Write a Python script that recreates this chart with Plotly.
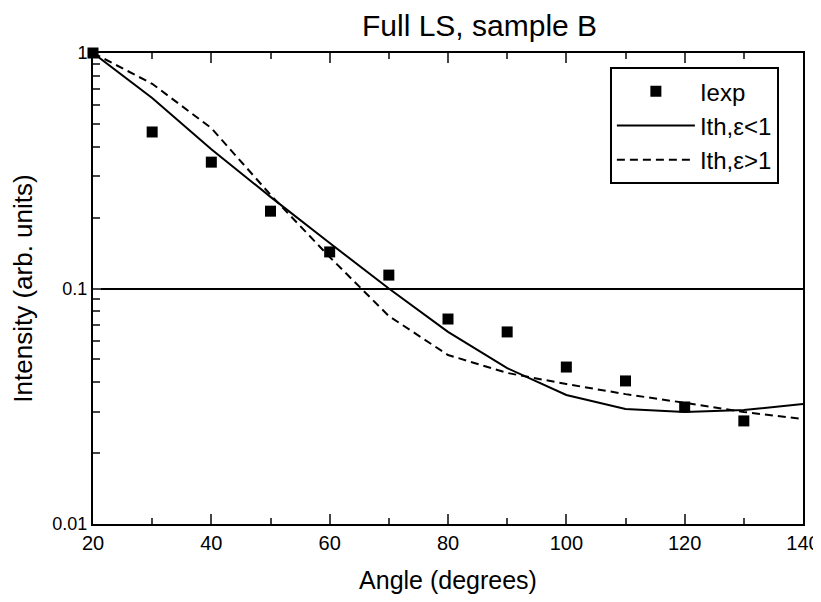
import plotly.graph_objects as go

angles_exp = [20, 30, 40, 50, 60, 70, 80, 90, 100, 110, 120, 130]
i_exp = [1.0, 0.462, 0.344, 0.213, 0.143, 0.114, 0.0742, 0.0654, 0.0464, 0.0405, 0.0314, 0.0274]

angles_th = [20, 30, 40, 50, 60, 70, 80, 90, 100, 110, 120, 130, 140]
i_th_lt1 = [1.0, 0.644, 0.39, 0.245, 0.156, 0.1, 0.0654, 0.0459, 0.0353, 0.0308, 0.0299, 0.0305, 0.0323]
i_th_gt1 = [1.0, 0.74, 0.48, 0.25, 0.136, 0.0764, 0.0522, 0.0438, 0.0393, 0.0356, 0.0327, 0.0299, 0.0279]

x_ticks = [20, 40, 60, 80, 100, 120, 140]
y_tickvals = [0.01, 0.1, 1]
y_ticktext = ["0.01", "0.1", "1"]
y_minor = [m * 10 ** e for e in (-2, -1) for m in range(2, 10)]

font = "Liberation Sans, Arial, sans-serif"

fig = go.Figure()
fig.add_trace(go.Scatter(x=angles_exp, y=i_exp, mode="markers", name="Iexp",
                         marker=dict(symbol="square", size=11, color="black"),
                         cliponaxis=False))
fig.add_trace(go.Scatter(x=angles_th, y=i_th_lt1, mode="lines", name="Ith,ε<1",
                         line=dict(color="black", width=2)))
fig.add_trace(go.Scatter(x=angles_th, y=i_th_gt1, mode="lines", name="Ith,ε>1",
                         line=dict(color="black", width=2, dash="8px,5px")))

fig.update_layout(
    width=813, height=594,
    margin=dict(l=85, r=18, t=45, b=78),
    paper_bgcolor="white", plot_bgcolor="white",
    font=dict(family=font, color="black", size=18),
    annotations=[dict(text="Full LS, sample B", xref="paper", yref="paper",
                      x=0.544, y=1.0, yshift=28, xanchor="center", yanchor="middle",
                      showarrow=False, font=dict(size=30, family=font))],
    legend=dict(x=0.728, y=0.97, xanchor="left", yanchor="top",
                bordercolor="black", borderwidth=2, bgcolor="white",
                font=dict(size=24, family=font), itemwidth=78,
                tracegroupgap=4),
    showlegend=True,
)
fig.update_xaxes(range=[20, 140], tickvals=x_ticks, ticks="inside", ticklen=10, tickwidth=2,
                 showline=True, linecolor="black", linewidth=2, mirror="ticks",
                 showgrid=False, zeroline=False, automargin=False,
                 minor=dict(ticks="inside", dtick=10, ticklen=6, tickwidth=2, showgrid=False),
                 title=dict(text="Angle (degrees)", font=dict(size=25), standoff=18),
                 tickfont=dict(size=20))
fig.update_yaxes(type="log", range=[-2, 0], tickvals=y_tickvals, ticktext=y_ticktext,
                 ticks="inside", ticklen=8, tickwidth=2,
                 showline=True, linecolor="black", linewidth=2, mirror=True,
                 showgrid=True, gridcolor="black", gridwidth=1.5, zeroline=False,
                 automargin=False,
                 minor=dict(ticks="inside", tickvals=y_minor, ticklen=7, tickwidth=2, showgrid=False),
                 title=dict(text="Intensity (arb. units)", font=dict(size=26), standoff=16),
                 tickfont=dict(size=18))

fig.write_html("out.html")
